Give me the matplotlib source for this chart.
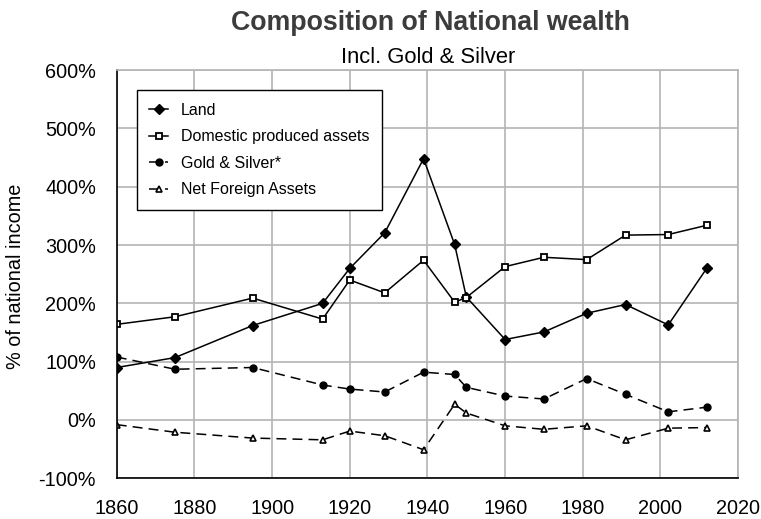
import matplotlib
matplotlib.use("Agg")
from matplotlib import pyplot as plt

plt.rcParams['font.family'] = ['Liberation Sans', 'DejaVu Sans']

# data
years = [1860, 1875, 1895, 1913, 1920, 1929, 1939, 1947, 1950, 1960, 1970, 1981, 1991, 2002, 2012]
land = [90, 107, 162, 200, 260, 321, 448, 301, 211, 138, 151, 183, 198, 163, 261]
domestic = [164, 177, 209, 173, 240, 218, 274, 202, 210, 263, 279, 275, 317, 318, 334]
gold = [108, 87, 90, 60, 53, 48, 82, 78, 56, 41, 36, 71, 44, 14, 22]
foreign = [-8, -21, -31, -34, -19, -27, -51, 27, 12, -10, -16, -10, -34, -14, -13]

fig = plt.figure(figsize=(7.61, 5.19), dpi=100)
ax = fig.add_axes([0.1534, 0.0784, 0.8166, 0.7866])

dash = (0, (6.5, 4))
ax.plot(years, land, color="black", lw=1.1, marker="D", ms=5, label="Land")
ax.plot(years, domestic, color="black", lw=1.1, marker="s", ms=4.2, mfc="white", mew=1.3,
        label="Domestic produced assets")
ax.plot(years, gold, color="black", lw=1.1, ls=dash, marker="o", ms=5, label="Gold & Silver*")
ax.plot(years, foreign, color="black", lw=1.1, ls=dash, marker="^", ms=4.8, mfc="white", mew=1.2,
        label="Net Foreign Assets")

ax.set_xlim(1860, 2020)
ax.set_ylim(-100, 600)
ax.set_xticks(range(1860, 2021, 20))
ax.set_yticks(range(-100, 601, 100))
ax.set_yticklabels([f"{v}%" for v in range(-100, 601, 100)])
ax.tick_params(length=0, labelsize=14.3)
ax.tick_params(axis="x", pad=15)
ax.tick_params(axis="y", pad=15)
ax.grid(color="#b4b4b4", lw=1.2)
ax.set_axisbelow(True)
for s in ["top", "right"]:
    ax.spines[s].set_color("#b4b4b4")
    ax.spines[s].set_linewidth(1.2)
for s in ["left", "bottom"]:
    ax.spines[s].set_linewidth(1.2)

fig.text(16 / 761, 0.468, "% of national income", rotation=90, ha="center", va="center", fontsize=14.3)

leg = ax.legend(loc="upper left", bbox_to_anchor=(0.032, 0.951), borderaxespad=0, fontsize=11.5,
                handlelength=1.15, fancybox=False, edgecolor="black", framealpha=1,
                borderpad=0.8, labelspacing=0.72, handletextpad=0.8)
leg.get_frame().set_linewidth(1.0)

fig.text(0.565, 0.942, "Composition of National wealth", ha="center", va="baseline",
         fontsize=19.3, fontweight="bold", color="#3c3c3c")
fig.text(0.562, 0.879, "Incl. Gold & Silver", ha="center", va="baseline", fontsize=15.8)

fig.savefig("out.png", dpi=100)
